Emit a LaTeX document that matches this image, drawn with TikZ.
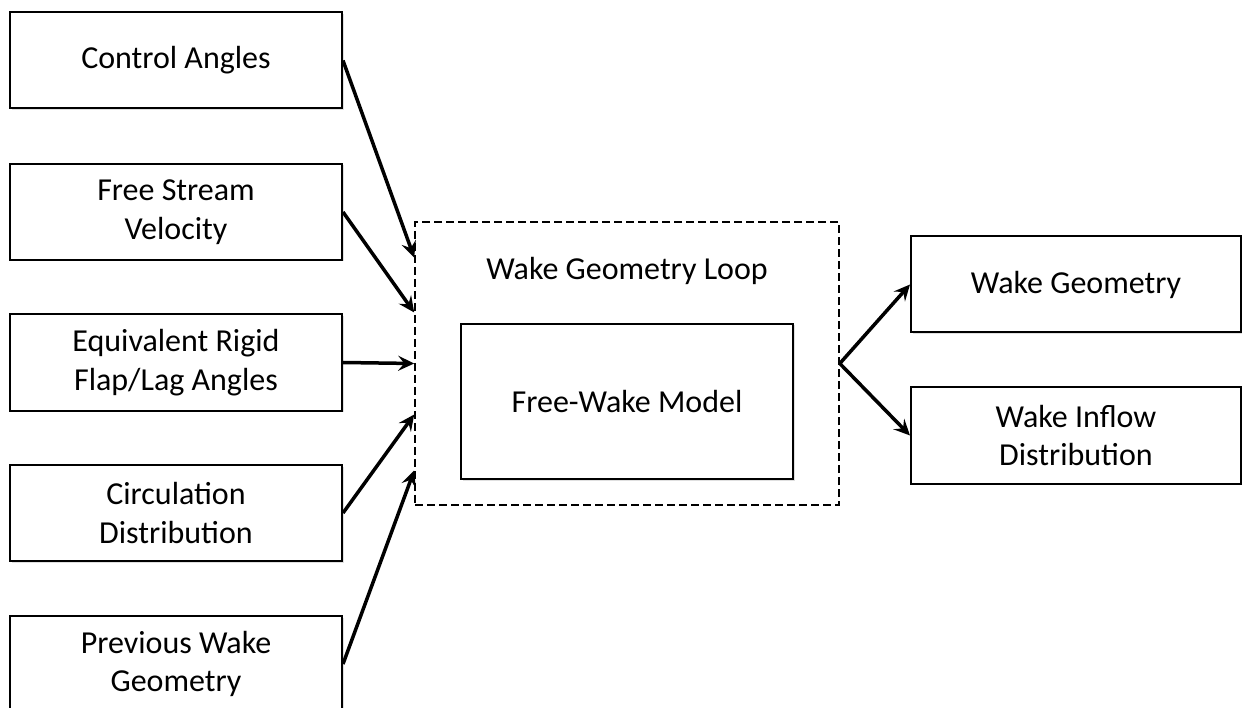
\documentclass[tikz,border=0pt]{standalone}
\usepackage{fontspec}
\setmainfont{Carlito}
\usetikzlibrary{positioning,arrows.meta,shadows}

\begin{document}
\begin{tikzpicture}[
  x=1pt, y=-1pt,
  every node/.style={inner sep=0pt},
  font=\fontsize{32}{38.5}\selectfont,
  tile/.style={
    draw, fill=white, line width=2pt, align=center,
    minimum width=332pt, minimum height=96pt,
    drop shadow={shadow xshift=1.5pt, shadow yshift=-1.5pt, opacity=0.25}
  },
  loopbox/.style={draw, dash pattern=on 8pt off 4pt, line width=1.6pt,
    minimum width=424pt, minimum height=283pt},
  feed/.style={-{Stealth[length=16pt, width=15pt, inset=6pt]}, line width=3.5pt}
]
\useasboundingbox (0,0) rectangle (1242,708);

% Left column: inputs
\node[tile] (ctrl) at (176,60.5) {Control Angles};
\node[tile] (vel)  at (176,212)  {Free Stream\\Velocity};
\node[tile] (flap) at (176,362.5) {Equivalent Rigid\\Flap/Lag Angles};
\node[tile] (circ) at (176,513)  {Circulation\\Distribution};
\node[tile] (prev) at (176,664)  {Previous Wake\\Geometry};

% Middle: the loop with the model inside
\node[loopbox] (loop) at (627,363.5) {};
\node (looplabel) at (627,271) {Wake Geometry Loop};
\node[tile, minimum height=155pt] (fwm) at (627,401.5) {Free-Wake Model};

% Right column: outputs
\node[tile, minimum width=330pt] (geom)   at (1076,284.5) {Wake Geometry};
\node[tile, minimum width=330pt] (inflow) at (1076,435.5) {Wake Inflow\\Distribution};

% Inputs into the loop
\draw[feed] (ctrl.east) -- ([yshift=106pt]loop.west);
\draw[feed] (vel.east)  -- ([yshift=51pt]loop.west);
\draw[feed] (flap.east) -- (loop.west);
\draw[feed] (circ.east) -- ([yshift=-51pt]loop.west);
\draw[feed] (prev.east) -- ([yshift=-107pt]loop.west);

% Loop out to the results
\draw[feed] (loop.east) -- (geom.west);
\draw[feed] (loop.east) -- (inflow.west);

\end{tikzpicture}
\end{document}
